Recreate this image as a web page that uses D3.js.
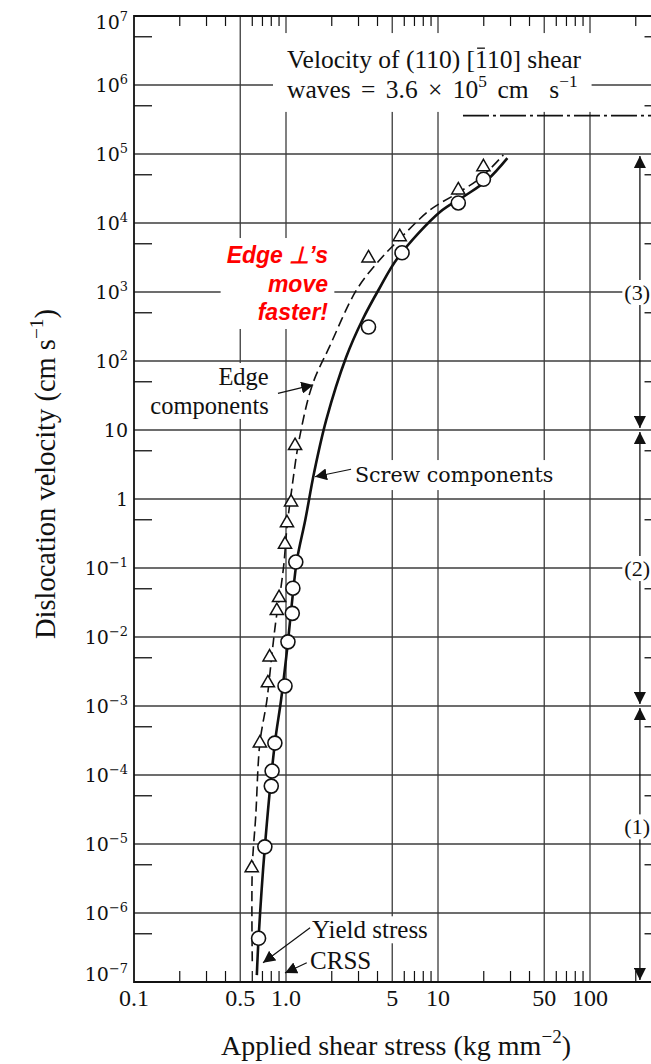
<!DOCTYPE html>
<html><head><meta charset="utf-8">
<script src="https://cdn.jsdelivr.net/npm/d3@7"></script>
<style>body{margin:0;background:#fff}svg{display:block}</style>
</head><body>
<svg id="chart" width="651" height="1064"></svg>
<script>
// ---------------- data ----------------
const screwStress   = [0.66, 0.726, 0.80, 0.81, 0.845, 0.985, 1.03, 1.10, 1.11, 1.16, 3.49, 5.8, 13.6, 19.9];
const screwVelocity = [4.3e-7, 9.1e-6, 6.9e-5, 1.14e-4, 2.9e-4, 1.95e-3, 8.5e-3, 2.2e-2, 5.1e-2, 0.122, 311, 3.7e3, 1.95e4, 4.3e4];

const edgeStress    = [0.595, 0.673, 0.76, 0.78, 0.87, 0.90, 0.985, 1.015, 1.08, 1.147, 3.49, 5.6, 13.6, 19.9];
const edgeVelocity  = [4.5e-6, 2.9e-4, 2.15e-3, 5.1e-3, 0.024, 0.037, 0.22, 0.45, 0.9, 5.9, 3.1e3, 6.3e3, 3.0e4, 6.5e4];

// fitted curves drawn in the figure
const screwCurveStress   = [0.643, 0.66, 0.726, 0.845, 0.927, 1.03, 1.10, 1.18, 1.34, 1.53, 1.84, 2.49, 3.18, 4.13, 5.43, 10.3, 14.7, 21.1, 28.6];
const screwCurveVelocity = [1.26e-7, 4.3e-7, 9.1e-6, 2.9e-4, 1.2e-3, 8.5e-3, 0.035, 0.13, 0.5, 2.4, 14, 114, 393, 1143, 3110, 1.44e4, 2.4e4, 4.2e4, 8.7e4];

const edgeCurveStress   = [0.60, 0.60, 0.632, 0.673, 0.748, 0.81, 0.859, 0.927, 0.97, 1.015, 1.096, 1.22, 1.49, 1.93, 2.91, 4.13, 5.35, 8.85, 13.4, 19.0, 26.9];
const edgeCurveVelocity = [2e-7, 4.5e-6, 2.5e-5, 2.9e-4, 1.2e-3, 5.9e-3, 0.0176, 0.053, 0.118, 0.39, 1.49, 7.2, 45, 160, 1070, 2910, 5300, 1.54e4, 2.7e4, 4.5e4, 9.7e4];

// axes
const xTickValues = [0.1, 0.5, 1, 5, 10, 50, 100];
const xTickLabels = ["0.1", "0.5", "1.0", "5", "10", "50", "100"];
const yExponents  = [7, 6, 5, 4, 3, 2, 1, 0, -1, -2, -3, -4, -5, -6, -7];
const xGridValues = [0.5, 1, 5, 10, 50, 100, 500];
const xDomain = [0.1, 1000];
const yDomain = [1e-7, 1e7];

// annotations
const shearWaveVelocity = 3.6e5;
const shearWaveStartStress = 14.6;
const regionBounds = [1e5, 10, 1e-3, 1e-7];
const regionLabels = ["(3)", "(2)", "(1)"];
const regionLabelVelocity = [1e3, 1e-1, 1.8e-5];
const regionArrowStress = 213;
const rightFrameStress = 300;

// ---------------- drawing ----------------
const svg = d3.select("#chart");
const x = d3.scaleLog().domain(xDomain).range([134, 742]);
const y = d3.scaleLog().domain(yDomain).range([982, 16]);
const X0 = x(xDomain[0]), Y0 = y(yDomain[0]), Y1 = y(yDomain[1]), XR = x(rightFrameStress);

const SERIF = "'Liberation Serif','Times New Roman',serif";
const WIDE  = "'DejaVu Serif',serif";
const SANS  = "'Liberation Sans',Arial,sans-serif";
const INK = "#111", GRID = "#3c3c3c";

svg.append("rect").attr("width", 651).attr("height", 1064).attr("fill", "#fff");

const gGrid = svg.append("g");
const gLabels = svg.append("g");
const gData = svg.append("g");
const gAxis = svg.append("g");

// horizontal gridlines at each decade
yExponents.filter(e => e < 7 && e > -7).forEach(e => {
  gGrid.append("line").attr("x1", X0).attr("x2", XR).attr("y1", y(Math.pow(10, e))).attr("y2", y(Math.pow(10, e)))
    .attr("stroke", GRID).attr("stroke-width", 1.3);
});
// vertical gridlines
xGridValues.forEach(v => {
  gGrid.append("line").attr("x1", x(v)).attr("x2", x(v)).attr("y1", Y1).attr("y2", Y0)
    .attr("stroke", GRID).attr("stroke-width", 1.3);
});

// minor ticks on x (top + bottom)
const xMinor = [];
[0.1, 1, 10, 100].forEach(d => { for (let k = 2; k <= 9; k++) if (k !== 5) xMinor.push(k * d); });
xMinor.forEach(v => {
  gAxis.append("line").attr("x1", x(v)).attr("x2", x(v)).attr("y1", Y1).attr("y2", Y1 + 10).attr("stroke", INK).attr("stroke-width", 1.2);
  gAxis.append("line").attr("x1", x(v)).attr("x2", x(v)).attr("y1", Y0).attr("y2", Y0 - 11).attr("stroke", INK).attr("stroke-width", 1.2);
});
// minor ticks on y at 5 x 10^n (left + right)
yExponents.filter(e => e > -7).forEach(e => {
  const v = 5 * Math.pow(10, e - 1);
  gAxis.append("line").attr("x1", X0).attr("x2", X0 + 18).attr("y1", y(v)).attr("y2", y(v)).attr("stroke", INK).attr("stroke-width", 1.3);
  gAxis.append("line").attr("x1", XR).attr("x2", XR - 18).attr("y1", y(v)).attr("y2", y(v)).attr("stroke", INK).attr("stroke-width", 1.3);
});

// frame
gAxis.append("path").attr("d", `M${XR},${Y1}H${X0}V${Y0}H${XR}`).attr("fill", "none").attr("stroke", INK).attr("stroke-width", 1.8);

// rich text helper (supports superscripts)
function rich(sel, parts, base) {
  parts.forEach((p, i) => {
    const t = sel.append("tspan").text(p.t);
    if (p.sup) { t.attr("font-size", base * 0.68).attr("dy", -base * 0.42); }
    else if (i > 0 && parts[i - 1].sup) { t.attr("dy", base * 0.42); }
  });
  return sel;
}
function boxed(textSel, padX, padY, group) {
  const g = group || gLabels;
  const b = textSel.node().getBBox();
  textSel.lower();
  g.insert("rect", ":first-child").attr("x", b.x - padX).attr("y", b.y - padY)
    .attr("width", b.width + 2 * padX).attr("height", b.height + 2 * padY).attr("fill", "#fff");
}

// y tick labels
yExponents.forEach(e => {
  let yy = y(Math.pow(10, e)) + 7;
  if (e === 7) yy += 6;
  if (e === -7) yy -= 8;
  const t = gAxis.append("text").attr("x", 128).attr("y", yy).attr("text-anchor", "end")
    .attr("font-family", WIDE).attr("font-size", 19).attr("fill", INK);
  if (e === 0) t.text("1");
  else if (e === 1) t.text("10");
  else rich(t, [{t: "10"}, {t: e < 0 ? "\u2212" + (-e) : String(e), sup: true}], 19);
});
// x tick labels
xTickValues.forEach((v, i) => {
  gAxis.append("text").attr("x", x(v)).attr("y", Y0 + 24).attr("text-anchor", "middle")
    .attr("font-family", SERIF).attr("font-size", 24).attr("fill", INK).text(xTickLabels[i]);
});
// axis titles
rich(gAxis.append("text").attr("x", 396).attr("y", 1055).attr("text-anchor", "middle")
  .attr("font-family", SERIF).attr("font-size", 28).attr("fill", INK),
  [{t: "Applied shear stress (kg mm"}, {t: "\u22122", sup: true}, {t: ")"}], 28);
rich(gAxis.append("text").attr("transform", "translate(55,474) rotate(-90)").attr("text-anchor", "middle")
  .attr("font-family", SERIF).attr("font-size", 28.5).attr("fill", INK),
  [{t: "Dislocation velocity (cm s"}, {t: "\u22121", sup: true}, {t: ")"}], 28.5);

// shear wave velocity text + dash-dot line
const VF = 25.5;
const vt = gLabels.append("text").attr("x", x(1.015)).attr("y", y(1.76e6)).attr("font-family", SERIF)
  .attr("font-size", VF).attr("fill", INK).text("Velocity of (110) [110] shear");
const vt2 = gLabels.append("text").attr("x", x(1.015)).attr("y", y(6.5e5)).attr("font-family", SERIF)
  .attr("font-size", VF).attr("fill", INK).attr("word-spacing", 4);
rich(vt2, [{t: "waves = 3.6 \u00d7 10"}, {t: "5", sup: true}, {t: " cm  s"}, {t: "\u22121", sup: true}], VF);
vt2.style("white-space", "pre");
(function () {
  const b1 = vt.node().getBBox(), b2 = vt2.node().getBBox();
  const x1 = Math.min(b1.x, b2.x) - 14, x2 = Math.max(b1.x + b1.width, b2.x + b2.width) + 10;
  gLabels.insert("rect", ":first-child").attr("x", x1).attr("y", b1.y - 12).attr("width", x2 - x1)
    .attr("height", b2.y + b2.height - b1.y + 20).attr("fill", "#fff");
  // overbar on the first "1" of [110]
  const idx = "Velocity of (110) [".length;
  const ext = vt.node().getExtentOfChar(idx);
  const by = y(1.76e6) - VF * 0.78;
  gLabels.append("line").attr("x1", ext.x + 2).attr("x2", ext.x + ext.width - 2).attr("y1", by).attr("y2", by)
    .attr("stroke", INK).attr("stroke-width", 1.3);
})();
gData.append("line").attr("x1", x(shearWaveStartStress)).attr("x2", 651)
  .attr("y1", y(shearWaveVelocity)).attr("y2", y(shearWaveVelocity))
  .attr("stroke", INK).attr("stroke-width", 1.6).attr("stroke-dasharray", "26,4,3,4");

// red annotation
const red = gLabels.append("text").attr("font-family", SANS).attr("font-size", 23)
  .attr("font-weight", "bold").attr("font-style", "italic").attr("fill", "#ff0000").attr("text-anchor", "end");
[["Edge \u22a5\u2019s", 2630], ["move", 1000], ["faster!", 393]].forEach(([s, v]) => {
  red.append("tspan").attr("x", x(1.89)).attr("y", y(v)).text(s);
});
boxed(red, 6, 4);

// Edge components label (two separate lines)
[["Edge", 44.9], ["components", 17.1]].forEach(([s, v]) => {
  const t = gLabels.append("text").attr("x", x(0.77)).attr("y", y(v)).attr("font-family", SERIF)
    .attr("font-size", 24.5).attr("fill", INK).attr("text-anchor", "end").text(s);
  boxed(t, 3, 0);
});

// Screw components label
const st = gLabels.append("text").attr("x", x(2.84)).attr("y", y(1.76)).attr("font-family", WIDE)
  .attr("font-size", 20.6).attr("fill", INK).text("Screw components");
boxed(st, 3, 3);

// Yield stress / CRSS
const yt = gLabels.append("text").attr("x", x(1.48)).attr("y", y(4.3e-7)).attr("font-family", SERIF)
  .attr("font-size", 25).attr("fill", INK).text("Yield stress");
boxed(yt, 3, 0);
const ct = gLabels.append("text").attr("x", x(1.44)).attr("y", y(1.55e-7)).attr("font-family", SERIF)
  .attr("font-size", 25).attr("fill", INK).text("CRSS");
boxed(ct, 3, 0);

// arrowhead marker
const defs = svg.append("defs");
defs.append("marker").attr("id", "ah").attr("viewBox", "0 0 10 10").attr("refX", 10).attr("refY", 5)
  .attr("markerWidth", 12).attr("markerHeight", 12).attr("markerUnits", "userSpaceOnUse").attr("orient", "auto-start-reverse")
  .append("path").attr("d", "M0,0L10,5L0,10Z").attr("fill", INK);

// annotation arrows (data space)
const arrows = [
  [[0.885, 34], [1.51, 45]],
  [[2.68, 2.7], [1.55, 2.1]],
  [[1.44, 6.1e-7], [0.706, 1.9e-7]],
  [[1.37, 1.9e-7], [0.985, 1.35e-7]]
];
arrows.forEach(([a, b]) => {
  gData.append("line").attr("x1", x(a[0])).attr("y1", y(a[1])).attr("x2", x(b[0])).attr("y2", y(b[1]))
    .attr("stroke", INK).attr("stroke-width", 1.2).attr("marker-end", "url(#ah)");
});

// region double arrows
const ra = x(regionArrowStress);
for (let i = 0; i < regionBounds.length - 1; i++) {
  const yTop = y(regionBounds[i]), yBot = y(regionBounds[i + 1]);
  gData.append("line").attr("x1", ra).attr("x2", ra).attr("y1", yTop + 2).attr("y2", yBot - 2)
    .attr("stroke", INK).attr("stroke-width", 1.3).attr("marker-start", "url(#ah)").attr("marker-end", "url(#ah)");
}
// region labels over the arrow line
regionLabels.forEach((s, i) => {
  const t = gData.append("text").attr("x", 650).attr("y", y(regionLabelVelocity[i]) + 8)
    .attr("text-anchor", "end").attr("font-family", SERIF).attr("font-size", 22).attr("fill", INK).text(s);
  const b = t.node().getBBox();
  gData.insert("rect", () => t.node()).attr("x", b.x - 2).attr("y", b.y).attr("width", b.width + 4).attr("height", b.height).attr("fill", "#fff");
});

// curves
const line = d3.line().x(d => x(d[0])).y(d => y(d[1])).curve(d3.curveCatmullRom.alpha(0.5));
gData.append("path").datum(edgeCurveStress.map((s, i) => [s, edgeCurveVelocity[i]]))
  .attr("d", line).attr("fill", "none").attr("stroke", INK).attr("stroke-width", 1.6).attr("stroke-dasharray", "10,5");
gData.append("path").datum(screwCurveStress.map((s, i) => [s, screwCurveVelocity[i]]))
  .attr("d", line).attr("fill", "none").attr("stroke", INK).attr("stroke-width", 2.6);

// points
const tri = d3.symbol().type(d3.symbolTriangle).size(75);
gData.selectAll(".tri").data(edgeStress.map((s, i) => [s, edgeVelocity[i]])).join("path")
  .attr("transform", d => `translate(${x(d[0])},${y(d[1])})`).attr("d", tri)
  .attr("fill", "#fff").attr("stroke", INK).attr("stroke-width", 1.5);
gData.selectAll(".cir").data(screwStress.map((s, i) => [s, screwVelocity[i]])).join("circle")
  .attr("cx", d => x(d[0])).attr("cy", d => y(d[1])).attr("r", 7)
  .attr("fill", "#fff").attr("stroke", INK).attr("stroke-width", 1.6);
</script>
</body></html>
